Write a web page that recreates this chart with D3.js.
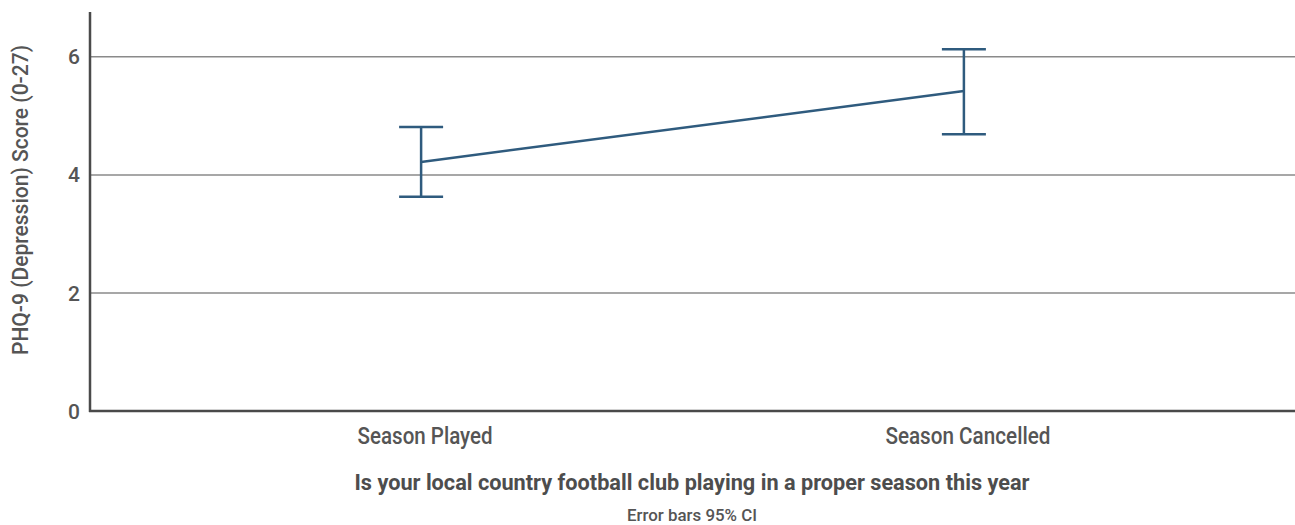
<!DOCTYPE html>
<html>
<head>
<meta charset="utf-8">
<script src="https://cdn.jsdelivr.net/npm/d3@7"></script>
<style>
  html, body { margin: 0; padding: 0; background: #fff; }
  svg text { font-family: "Roboto", "Liberation Sans", sans-serif; fill: #555; font-weight: 500; }
</style>
</head>
<body>
<svg id="chart" width="1295" height="525"></svg>
<script>
// Mean PHQ-9 score per group with 95% confidence interval
const categories = ["Season Played", "Season Cancelled"];
const means = [4.22, 5.42];
const lower = [3.63, 4.69];
const upper = [4.81, 6.13];
const yTicks = [0, 2, 4, 6];

const svg = d3.select("#chart");
const margin = { left: 90, right: 0, top: 12, bottom: 114 };
const W = 1295, H = 525;

const x = d3.scalePoint().domain(categories).range([margin.left, W - margin.right]).padding(0.61);
const y = d3.scaleLinear().domain([0, 6.76]).range([H - margin.bottom, margin.top]);

// condensed look: squeeze each label to its set width
function label(sel, len) {
  return sel.attr("textLength", len).attr("lengthAdjust", "spacingAndGlyphs");
}

// horizontal gridlines
svg.append("g").selectAll("line").data(yTicks.filter(d => d > 0)).join("line")
  .attr("x1", margin.left).attr("x2", W)
  .attr("y1", d => y(d)).attr("y2", d => y(d))
  .attr("stroke", "#8a8a8a").attr("stroke-width", 1.5);

// y tick labels
svg.append("g").selectAll("text").data(yTicks).join("text")
  .attr("x", 74).attr("y", d => y(d)).attr("dy", "0.36em")
  .attr("text-anchor", "middle").attr("font-size", 21)
  .text(d => d);

// axes lines
svg.append("line").attr("x1", margin.left).attr("x2", margin.left)
  .attr("y1", margin.top).attr("y2", y(0) + 1)
  .attr("stroke", "#4a4a4a").attr("stroke-width", 2.5);
svg.append("line").attr("x1", margin.left - 1).attr("x2", W)
  .attr("y1", y(0)).attr("y2", y(0))
  .attr("stroke", "#4a4a4a").attr("stroke-width", 2.5);

// category labels
const catWidths = [135, 165];
svg.append("g").selectAll("text").data(categories).join("text")
  .attr("x", d => x(d) + 4).attr("y", 444)
  .attr("text-anchor", "middle").attr("font-size", 23)
  .text(d => d)
  .each(function(d, i) { label(d3.select(this), catWidths[i]); });

// axis titles
label(svg.append("text")
  .attr("transform", `translate(28,200) rotate(-90)`)
  .attr("text-anchor", "middle").attr("font-size", 22)
  .text("PHQ-9 (Depression) Score (0-27)"), 310);

label(svg.append("text").attr("x", 692).attr("y", 490)
  .attr("text-anchor", "middle").attr("font-size", 22)
  .style("font-weight", "bold").style("fill", "#4d4d4d")
  .text("Is your local country football club playing in a proper season this year"), 675);

label(svg.append("text").attr("x", 692).attr("y", 521)
  .attr("text-anchor", "middle").attr("font-size", 17)
  .text("Error bars 95% CI"), 130);

const color = "#2f5b7e";
const cap = 22;

// line connecting means
const pts = categories.map((c, i) => [x(c), y(means[i])]);
svg.append("path").attr("d", d3.line()(pts))
  .attr("fill", "none").attr("stroke", color).attr("stroke-width", 2.5);

// error bars
const eb = svg.append("g").selectAll("g").data(categories).join("g");
eb.append("line")
  .attr("x1", d => x(d)).attr("x2", d => x(d))
  .attr("y1", (d, i) => y(lower[i])).attr("y2", (d, i) => y(upper[i]))
  .attr("stroke", color).attr("stroke-width", 2.5);
eb.append("line")
  .attr("x1", d => x(d) - cap).attr("x2", d => x(d) + cap)
  .attr("y1", (d, i) => y(upper[i])).attr("y2", (d, i) => y(upper[i]))
  .attr("stroke", color).attr("stroke-width", 2.5);
eb.append("line")
  .attr("x1", d => x(d) - cap).attr("x2", d => x(d) + cap)
  .attr("y1", (d, i) => y(lower[i])).attr("y2", (d, i) => y(lower[i]))
  .attr("stroke", color).attr("stroke-width", 2.5);
</script>
</body>
</html>
